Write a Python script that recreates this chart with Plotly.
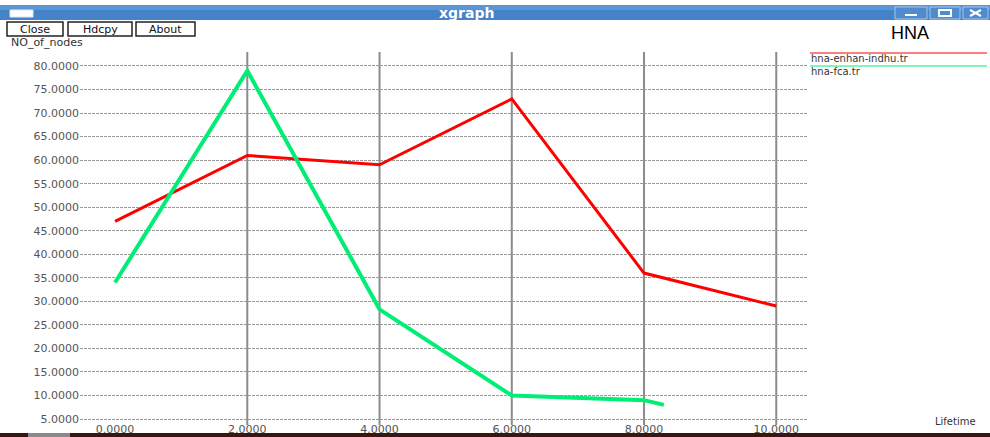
import plotly.graph_objects as go

# ---- data -------------------------------------------------------------
series_names = ["hna-enhan-indhu.tr", "hna-fca.tr"]
enhan_x = [0, 2, 4, 6, 8, 10]
enhan_y = [47, 61, 59, 73, 36, 29]
fca_x = [0, 2, 4, 6, 8, 8.3]
fca_y = [34, 79, 28.3, 10, 9, 8]
series_colors = ["#ff0000", "#00ee76"]

x_ticks = [0, 2, 4, 6, 8, 10]
x_tick_text = ["0.0000", "2.0000", "4.0000", "6.0000", "8.0000", "10.0000"]
y_ticks = list(range(5, 85, 5))
y_tick_text = [f"{v}.0000" for v in y_ticks]
x_label = "Lifetime"
y_label = "NO_of_nodes"
graph_title = "HNA"
window_title = "xgraph"
buttons = ["Close", "Hdcpy", "About"]

W, H = 990, 437


def px(x):
    return x / W


def py(y):
    return 1 - y / H


fig = go.Figure()

fig.add_trace(go.Scatter(x=enhan_x, y=enhan_y, mode="lines",
                         line=dict(color=series_colors[0], width=3),
                         name=series_names[0], showlegend=False))
fig.add_trace(go.Scatter(x=fca_x, y=fca_y, mode="lines",
                         line=dict(color=series_colors[1], width=4),
                         name=series_names[1], showlegend=False))

shapes = []
annotations = []

# vertical grid lines (solid) and the white break at x = 0
for xv in x_ticks[1:]:
    shapes.append(dict(type="line", xref="x", yref="paper", x0=xv, x1=xv,
                       y0=py(425), y1=py(52), layer="between",
                       line=dict(color="#8c8c8c", width=2)))
shapes.append(dict(type="line", xref="x", yref="paper", x0=0, x1=0,
                   y0=py(425), y1=py(52), layer="between",
                   line=dict(color="white", width=4)))

# window title bar
shapes.append(dict(type="rect", xref="paper", yref="paper",
                   x0=0, x1=1, y0=py(20), y1=py(5), layer="below",
                   line=dict(width=0), fillcolor="#4583c8"))
shapes.append(dict(type="rect", xref="paper", yref="paper",
                   x0=0, x1=1, y0=py(10), y1=py(5), layer="below",
                   line=dict(width=0), fillcolor="#5b95d4"))
# window menu icon
shapes.append(dict(type="rect", xref="paper", yref="paper",
                   x0=px(10), x1=px(33), y0=py(17), y1=py(10),
                   line=dict(color="#dfe9f5", width=1), fillcolor="white"))
# minimize / maximize / close boxes
for x0, x1 in [(895, 927), (930, 960), (963, 988)]:
    shapes.append(dict(type="rect", xref="paper", yref="paper",
                       x0=px(x0), x1=px(x1), y0=py(19), y1=py(7),
                       line=dict(color="#a9c6e8", width=1), fillcolor="#4f8bcd"))
shapes.append(dict(type="line", xref="paper", yref="paper",
                   x0=px(905), x1=px(917), y0=py(15), y1=py(15),
                   line=dict(color="white", width=2)))
shapes.append(dict(type="rect", xref="paper", yref="paper",
                   x0=px(939), x1=px(951), y0=py(16), y1=py(10),
                   line=dict(color="white", width=2)))
shapes.append(dict(type="line", xref="paper", yref="paper",
                   x0=px(970), x1=px(981), y0=py(16), y1=py(10),
                   line=dict(color="white", width=2)))
shapes.append(dict(type="line", xref="paper", yref="paper",
                   x0=px(970), x1=px(981), y0=py(10), y1=py(16),
                   line=dict(color="white", width=2)))
annotations.append(dict(text=f"<b>{window_title}</b>", xref="paper", yref="paper",
                        x=px(466), y=py(13), xanchor="center", yanchor="middle",
                        showarrow=False,
                        font=dict(family="DejaVu Sans", size=14, color="white")))

# command buttons
for label, (x0, x1) in zip(buttons, [(7, 63), (68, 132), (136, 195)]):
    shapes.append(dict(type="rect", xref="paper", yref="paper",
                       x0=px(x0), x1=px(x1), y0=py(36), y1=py(22),
                       line=dict(color="#222222", width=1.5), fillcolor="white"))
    annotations.append(dict(text=label, xref="paper", yref="paper",
                            x=px((x0 + x1) / 2), y=py(29), xanchor="center",
                            yanchor="middle", showarrow=False,
                            font=dict(family="DejaVu Sans", size=11, color="#111111")))

# axis captions and graph title
annotations.append(dict(text=y_label, xref="paper", yref="paper", x=px(9), y=py(42),
                        xanchor="left", yanchor="middle", showarrow=False,
                        font=dict(family="DejaVu Sans", size=11, color="#333333")))
annotations.append(dict(text=x_label, xref="paper", yref="paper", x=px(978), y=py(421),
                        xanchor="right", yanchor="middle", showarrow=False,
                        font=dict(family="DejaVu Sans", size=10, color="#333333")))
annotations.append(dict(text=graph_title, xref="paper", yref="paper", x=px(910), y=py(33),
                        xanchor="center", yanchor="middle", showarrow=False,
                        font=dict(family="Liberation Sans", size=18, color="#000000")))

# legend: colour line above each file name
for i, (name, color) in enumerate(zip(series_names, series_colors)):
    ly = 53 + 13 * i
    shapes.append(dict(type="line", xref="paper", yref="paper",
                       x0=px(810), x1=px(987), y0=py(ly), y1=py(ly),
                       line=dict(color=color, width=1.2)))
    annotations.append(dict(text=name, xref="paper", yref="paper", x=px(809), y=py(ly + 5),
                            xanchor="left", yanchor="middle", showarrow=False,
                            font=dict(family="DejaVu Sans", size=10, color="#333333")))

# bottom window border
shapes.append(dict(type="rect", xref="paper", yref="paper",
                   x0=0, x1=1, y0=0, y1=py(433), layer="below",
                   line=dict(width=0), fillcolor="#3a1610"))
shapes.append(dict(type="rect", xref="paper", yref="paper",
                   x0=px(28), x1=px(70), y0=0, y1=py(433), layer="below",
                   line=dict(width=0), fillcolor="#8a8a8a"))

fig.update_layout(
    width=W, height=H,
    margin=dict(l=0, r=0, t=0, b=0),
    paper_bgcolor="white", plot_bgcolor="white",
    shapes=shapes, annotations=annotations, showlegend=False,
    xaxis=dict(domain=[px(80), px(808)], range=[-0.53, 10.48],
               tickvals=x_ticks, ticktext=x_tick_text, showgrid=False,
               zeroline=False, showline=False, ticks="",
               ticklabelstandoff=-4,
               tickfont=dict(family="DejaVu Sans", size=11, color="#555555")),
    yaxis=dict(domain=[py(425), py(52)], range=[3.725, 82.97],
               tickvals=y_ticks, ticktext=y_tick_text, showgrid=True,
               gridcolor="#9a9a9a", gridwidth=1, griddash="3px,1px",
               zeroline=False, showline=False, ticks="",
               tickfont=dict(family="DejaVu Sans", size=11, color="#555555")),
)

fig.write_html("out.html")
